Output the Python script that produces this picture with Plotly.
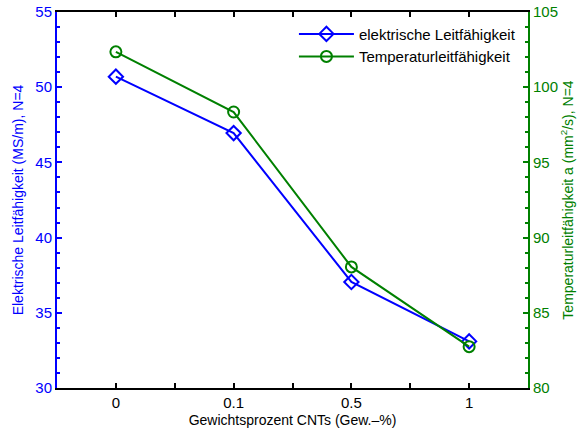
import plotly.graph_objects as go

categories = ["0", "0.1", "0.5", "1"]
elec = [50.7, 46.95, 37.05, 33.1]
thermal = [102.35, 98.35, 88.05, 82.75]

BLUE = "#0000FF"
GREEN = "#008000"
FONT = "Liberation Sans, Arial, Helvetica, sans-serif"

xpos = list(range(len(categories)))

fig = go.Figure()
fig.add_trace(go.Scatter(
    x=xpos, y=elec, mode="lines+markers", name="elektrische Leitfähigkeit",
    line=dict(color=BLUE, width=2),
    marker=dict(symbol="diamond-open", size=11, color=BLUE, line=dict(width=2, color=BLUE)),
    yaxis="y"))
fig.add_trace(go.Scatter(
    x=xpos, y=thermal, mode="lines+markers", name="Temperaturleitfähigkeit",
    line=dict(color=GREEN, width=2),
    marker=dict(symbol="circle-open", size=11, color=GREEN, line=dict(width=2, color=GREEN)),
    yaxis="y2"))

fig.update_layout(
    width=579, height=434,
    margin=dict(l=57, r=51, t=12, b=46, autoexpand=False),
    paper_bgcolor="white", plot_bgcolor="white",
    font=dict(family=FONT, size=15, color="black"),
    showlegend=True,
    legend=dict(x=0.985, y=0.985, xanchor="right", yanchor="top",
                bgcolor="rgba(255,255,255,0)", borderwidth=0,
                font=dict(size=15, color="black"), itemwidth=55,
                tracegroupgap=0),
    xaxis=dict(
        range=[-0.5, 3.5], tickvals=xpos, ticktext=categories,
        showgrid=False, zeroline=False, automargin=False,
        showline=True, linecolor="black", linewidth=2, mirror="allticks",
        ticks="inside", ticklen=5, tickwidth=1.5, tickcolor="black",
        minor=dict(dtick=0.5, tick0=0, ticks="inside", ticklen=5, tickwidth=1.5, tickcolor="black", showgrid=False),
        tickfont=dict(size=15, color="black"),
        title=dict(text="Gewichtsprozent CNTs (Gew.–%)", font=dict(size=14, color="black"), standoff=5),
    ),
    yaxis=dict(
        range=[30, 55], dtick=5, tick0=30,
        showgrid=False, zeroline=False, automargin=False,
        showline=True, linecolor=BLUE, linewidth=2,
        ticks="inside", ticklen=5, tickwidth=1.5, tickcolor=BLUE,
        minor=dict(dtick=1, ticks="inside", ticklen=3, tickwidth=1.5, tickcolor=BLUE, showgrid=False),
        tickfont=dict(size=15, color=BLUE),
        title=dict(text="Elektrische Leitfähigkeit (MS/m), N=4", font=dict(size=14, color=BLUE), standoff=8),
    ),
    yaxis2=dict(
        range=[80, 105], dtick=5, tick0=80,
        overlaying="y", side="right", anchor="x",
        showgrid=False, zeroline=False, automargin=False,
        showline=True, linecolor=GREEN, linewidth=2,
        ticks="inside", ticklen=5, tickwidth=1.5, tickcolor=GREEN,
        minor=dict(dtick=1, ticks="inside", ticklen=3, tickwidth=1.5, tickcolor=GREEN, showgrid=False),
        tickfont=dict(size=15, color=GREEN),
        title=dict(text="Temperaturleitfähigkeit a (mm<sup>2</sup>/s), N=4", font=dict(size=14, color=GREEN), standoff=6),
    ),
)

fig.write_html("out.html")
